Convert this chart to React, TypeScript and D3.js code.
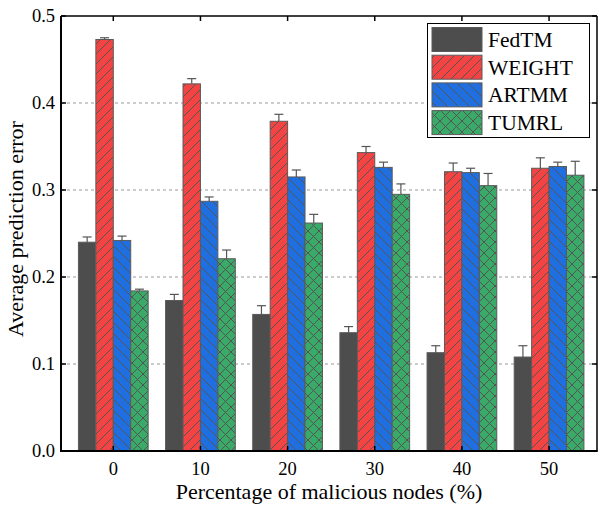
import React from "react";
import * as d3 from "d3";

const categories = [0, 10, 20, 30, 40, 50];
const seriesNames = ["FedTM", "WEIGHT", "ARTMM", "TUMRL"];
const fedtm = [0.24, 0.173, 0.157, 0.136, 0.113, 0.108];
const fedtmErr = [0.006, 0.007, 0.01, 0.007, 0.008, 0.013];
const weight = [0.473, 0.422, 0.379, 0.343, 0.321, 0.325];
const weightErr = [0.002, 0.006, 0.008, 0.007, 0.01, 0.012];
const artmm = [0.242, 0.287, 0.315, 0.326, 0.32, 0.327];
const artmmErr = [0.005, 0.005, 0.008, 0.006, 0.005, 0.005];
const tumrl = [0.184, 0.221, 0.262, 0.295, 0.305, 0.317];
const tumrlErr = [0.002, 0.01, 0.01, 0.012, 0.014, 0.016];
const yTicks = [0.0, 0.1, 0.2, 0.3, 0.4, 0.5];

const values = [fedtm, weight, artmm, tumrl];
const errors = [fedtmErr, weightErr, artmmErr, tumrlErr];
const fills = ["#4d4d4d", "url(#hatchR)", "url(#hatchB)", "url(#hatchG)"];

const W = 602, H = 510;
const L = 61, R = 597, T = 16, B = 451;
const FONT = "'Liberation Serif', 'Times New Roman', serif";

export default function App() {
  const x = d3.scaleLinear().domain([-6, 55.5]).range([L, R]);
  const y = d3.scaleLinear().domain([0, 0.5]).range([B, T]);
  const inner = d3.scaleBand<string>().domain(seriesNames).range([-4, 4]).padding(0);
  const bw = x(inner.bandwidth()) - x(0);

  return (
    <svg width={W} height={H} style={{ position: "absolute", left: 0, top: 0, background: "#fff" }}>
      <defs>
        <pattern id="hatchR" patternUnits="userSpaceOnUse" width="10" height="10">
          <rect width="10" height="10" fill="#f44343" />
          <path d="M-2,2 L2,-2 M0,10 L10,0 M8,12 L12,8" stroke="#555" strokeWidth="1" />
        </pattern>
        <pattern id="hatchB" patternUnits="userSpaceOnUse" width="11" height="11">
          <rect width="11" height="11" fill="#1f6fe0" />
          <path d="M-2,9 L2,13 M0,0 L11,11 M9,-2 L13,2" stroke="#555" strokeWidth="1" />
        </pattern>
        <pattern id="hatchG" patternUnits="userSpaceOnUse" width="11" height="11">
          <rect width="11" height="11" fill="#3aaa68" />
          <path d="M0,0 L11,11 M0,11 L11,0" stroke="#555" strokeWidth="1" />
        </pattern>
      </defs>

      {/* grid */}
      {yTicks.filter((t) => t > 0 && t < 0.5).map((t) => (
        <line key={"g" + t} x1={L} x2={R} y1={y(t)} y2={y(t)} stroke="#999" strokeDasharray="3,3" strokeWidth={1} />
      ))}

      {/* bars */}
      {categories.map((c, i) =>
        seriesNames.map((s, k) => {
          const x0 = x(c + (inner(s) as number));
          const v = values[k][i];
          return (
            <rect key={s + c} x={x0} y={y(v)} width={bw} height={B - y(v)} fill={fills[k]} stroke="#5a5a5a" strokeWidth={1} />
          );
        })
      )}
      {/* error bars */}
      {categories.map((c, i) =>
        seriesNames.map((s, k) => {
          const cx = x(c + (inner(s) as number)) + bw / 2;
          const v = values[k][i];
          const e = errors[k][i];
          return (
            <g key={"e" + s + c} stroke="#555" strokeWidth={1.2}>
              <line x1={cx} x2={cx} y1={y(v)} y2={y(v + e)} />
              <line x1={cx - 4.5} x2={cx + 4.5} y1={y(v + e)} y2={y(v + e)} />
            </g>
          );
        })
      )}

      {/* axes frame */}
      <line x1={L} x2={R} y1={T} y2={T} stroke="#000" strokeWidth={1.5} />
      <line x1={R} x2={R} y1={T} y2={B} stroke="#000" strokeWidth={1.5} />
      <line x1={L} x2={L} y1={T} y2={B + 1} stroke="#000" strokeWidth={2} />
      <line x1={L - 1} x2={R + 0.75} y1={B} y2={B} stroke="#000" strokeWidth={2} />

      {/* y ticks */}
      {yTicks.map((t) => (
        <g key={"y" + t}>
          <line x1={L} x2={L + 5} y1={y(t)} y2={y(t)} stroke="#000" strokeWidth={1.5} />
          <line x1={R} x2={R - 5} y1={y(t)} y2={y(t)} stroke="#000" strokeWidth={1.5} />
          <text x={L - 6} y={y(t) + 6} textAnchor="end" fontFamily={FONT} fontSize={18.5} fill="#000">
            {d3.format(".1f")(t)}
          </text>
        </g>
      ))}
      {/* x ticks */}
      {categories.map((c) => (
        <g key={"x" + c}>
          <line x1={x(c)} x2={x(c)} y1={B} y2={B - 5} stroke="#000" strokeWidth={1.5} />
          <line x1={x(c)} x2={x(c)} y1={T} y2={T + 5} stroke="#000" strokeWidth={1.5} />
          <text x={x(c)} y={B + 24} textAnchor="middle" fontFamily={FONT} fontSize={18.5} fill="#000">
            {c}
          </text>
        </g>
      ))}

      {/* axis titles */}
      <text x={(L + R) / 2} y={499} textAnchor="middle" fontFamily={FONT} fontSize={22} fill="#000">
        Percentage of malicious nodes (%)
      </text>
      <text transform={`translate(23,229) rotate(-90)`} textAnchor="middle" fontFamily={FONT} fontSize={22} fill="#000">
        Average prediction error
      </text>

      {/* legend */}
      <rect x={427.5} y={23.5} width={162} height={114} fill="#fff" stroke="#000" strokeWidth={1} />
      {seriesNames.map((s, k) => (
        <g key={"l" + s}>
          <rect x={432} y={27.5 + k * 27.7} width={50} height={24} fill={fills[k]} stroke="#5a5a5a" strokeWidth={1} />
          <text x={488} y={47 + k * 27.7} fontFamily={FONT} fontSize={21.5} fill="#000">
            {s}
          </text>
        </g>
      ))}
    </svg>
  );
}
